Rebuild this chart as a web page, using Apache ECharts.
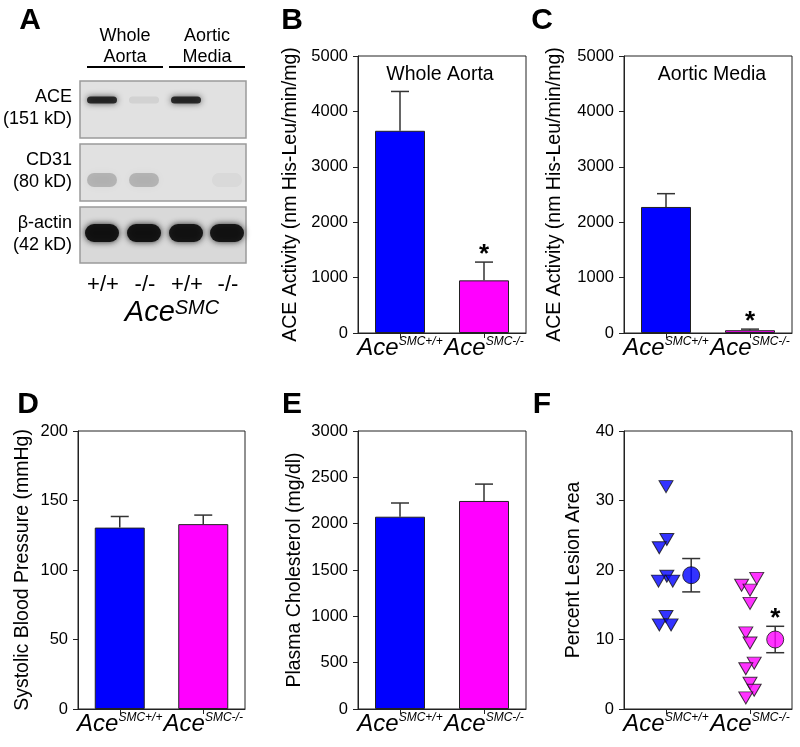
<!DOCTYPE html>
<html><head><meta charset="utf-8">
<script src="https://cdn.jsdelivr.net/npm/echarts@6/dist/echarts.min.js"></script>
<style>html,body{margin:0;padding:0;background:#fff}#c{width:800px;height:747px}</style>
</head><body><div id="c"></div>
<script>
// ---------- data ----------
const groups = ['+/+', '-/-'];
const groupColors = ['#0000ff', '#ff00ff'];

// B: ACE activity, whole aorta
const wholeAortaMean = [3650, 950];
const wholeAortaErr = [710, 330];
const wholeAortaSig = ['', '*'];
// C: ACE activity, aortic media
const mediaMean = [2275, 50];
const mediaErr = [240, 20];
const mediaSig = ['', '*'];
// D: systolic blood pressure
const sbpMean = [130.5, 133];
const sbpErr = [8, 6.5];
// E: plasma cholesterol
const cholMean = [2075, 2245];
const cholErr = [148, 182];
// F: percent lesion area (individual mice)
const lesionPlus = [32.0, 24.4, 23.2, 19.1, 18.4, 18.4, 13.3, 12.1, 12.1];
const lesionPlusJitter = [0, 0.01, -0.08, 0.01, -0.09, 0.08, 0, -0.08, 0.06];
const lesionMinus = [18.8, 17.8, 17.1, 15.2, 10.95, 9.5, 6.6, 5.8, 3.7, 2.7, 1.6];
const lesionMinusJitter = [0.08, -0.1, 0, 0, -0.05, 0, 0.05, -0.05, 0, 0.05, -0.05];
const lesionMean = [19.25, 10.0];
const lesionErr = [2.4, 1.9];
const lesionSig = ['', '*'];
const meanOffset = 0.3;

// A: western blot
const blotRows = ['ACE', 'CD31', 'β-actin'];
const blotSizes = ['(151 kD)', '(80 kD)', '(42 kD)'];
const blotLanes = ['+/+', '-/-', '+/+', '-/-'];
const blotTissues = [['Whole', 'Aorta'], ['Aortic', 'Media']];
const blotIntensity = [[0.82, 0.07, 0.82, 0.0], [0.2, 0.2, 0.0, 0.04], [0.95, 0.95, 0.93, 0.93]];

// ---------- helpers ----------
const FONT = '"Liberation Sans", Arial, sans-serif';
const chart = echarts.init(document.getElementById('c'), null, {renderer: 'canvas'});

const grids = [
  {left: 358, top: 56, width: 168, height: 277},   // B
  {left: 624, top: 56, width: 168, height: 277},   // C
  {left: 78,  top: 431, width: 167, height: 278},  // D
  {left: 358, top: 431, width: 168, height: 278},  // E
  {left: 624, top: 431, width: 168, height: 278}   // F
].map(g => Object.assign({show: true, borderColor: '#222', borderWidth: 1, backgroundColor: 'transparent'}, g));

function catAxis(gi) {
  return {
    type: 'category', gridIndex: gi, data: groups,
    axisLine: {show: true, lineStyle: {color: '#222', width: 1}},
    axisTick: {show: true, alignWithLabel: true, length: 5, lineStyle: {color: '#222'}},
    axisLabel: {
      margin: 3, interval: 0, hideOverlap: false,
      formatter: v => '{a|Ace}{s|SMC' + v + '}',
      rich: {
        a: {fontFamily: FONT, fontSize: 24, fontStyle: 'italic', color: '#000'},
        s: {fontFamily: FONT, fontSize: 12, fontStyle: 'italic', color: '#000', verticalAlign: 'top'}
      }
    },
    splitLine: {show: false}
  };
}
function valAxis(gi, max, interval, name, gap) {
  return {
    type: 'value', gridIndex: gi, min: 0, max: max, interval: interval,
    name: name, nameLocation: 'middle', nameGap: gap,
    nameTextStyle: {fontFamily: FONT, fontSize: 19.5, color: '#000'},
    axisLine: {show: true, onZero: false, lineStyle: {color: '#222', width: 1}},
    axisTick: {show: true, inside: false, length: 5, lineStyle: {color: '#222'}},
    axisLabel: {fontFamily: FONT, fontSize: 16.5, color: '#000', margin: 10, formatter: v => String(v)},
    splitLine: {show: false}
  };
}
function barSeries(gi, means) {
  return {
    type: 'bar', xAxisIndex: gi, yAxisIndex: gi, barWidth: 50,
    data: means.map((m, i) => ({value: m, itemStyle: {color: groupColors[i]}})),
    itemStyle: {borderColor: '#222', borderWidth: 1}, silent: true, z: 2
  };
}
function upperErrSeries(gi, means, errs, sig) {
  return {
    type: 'custom', xAxisIndex: gi, yAxisIndex: gi, z: 1, silent: true,
    data: means.map((m, i) => [i, m, errs[i], sig ? (sig[i] ? 1 : 0) : 0]),
    renderItem: (params, api) => {
      const x = api.value(0), m = api.value(1), e = api.value(2);
      const p0 = api.coord([x, m]), p1 = api.coord([x, m + e]);
      const st = {stroke: '#333', lineWidth: 1.5};
      const ch = [
        {type: 'line', shape: {x1: p0[0], y1: p0[1], x2: p1[0], y2: p1[1]}, style: st},
        {type: 'line', shape: {x1: p1[0] - 9, y1: p1[1], x2: p1[0] + 9, y2: p1[1]}, style: st}
      ];
      if (api.value(3)) ch.push({type: 'text', style: {text: '*', x: p1[0], y: p1[1] - 7,
        textAlign: 'center', textVerticalAlign: 'middle', font: 'bold 26px ' + FONT, fill: '#000'}});
      return {type: 'group', children: ch};
    }
  };
}

// ---------- panel A (blot) graphics ----------
const gfx = [];
function txt(text, x, y, size, opts) {
  gfx.push(Object.assign({type: 'text', silent: true, style: Object.assign({text, x, y, font: size + 'px ' + FONT, fill: '#000', textAlign: 'center', textVerticalAlign: 'middle'}, opts || {})}));
}
// panel letters
[['A', 30, 21], ['B', 292, 21], ['C', 542, 21], ['D', 28, 405], ['E', 292, 405], ['F', 542, 405]]
  .forEach(([t, x, y]) => txt(t, x, y, 30, {font: 'bold 30px ' + FONT}));
// in-plot titles
txt('Whole Aorta', 440, 75, 19.5);
txt('Aortic Media', 712, 75, 19.5);

// tissue headers
const tissueX = [125, 207];
blotTissues.forEach((t, i) => {
  txt(t[0], tissueX[i], 36, 18);
  txt(t[1], tissueX[i], 57, 18);
  gfx.push({type: 'line', silent: true, shape: {x1: tissueX[i] - 38, y1: 67, x2: tissueX[i] + 38, y2: 67}, style: {stroke: '#000', lineWidth: 2}});
});
const rowTops = [81, 144, 207];
const rowH = [57, 57, 56];
const laneX = [102, 144, 186, 227];
const bandY = [100, 180, 233];
const bandH = [7, 14, 18];
const bandW = [30, 30, 34];
blotRows.forEach((r, ri) => {
  gfx.push({type: 'rect', silent: true, shape: {x: 80, y: rowTops[ri], width: 166, height: rowH[ri]},
    style: {fill: ri === 2 ? '#d9d9d9' : '#e1e1e1', stroke: '#9a9a9a', lineWidth: 1.5}});
  txt(r, 72, rowTops[ri] + 16, 18, {textAlign: 'right'});
  txt(blotSizes[ri], 72, rowTops[ri] + 38, 18, {textAlign: 'right'});
  blotIntensity[ri].forEach((a, li) => {
    if (a <= 0) return;
    const w = bandW[ri], h = bandH[ri];
    gfx.push({type: 'rect', silent: true,
      shape: {x: laneX[li] - w / 2, y: bandY[ri] - h / 2, width: w, height: h, r: h / 2},
      style: {fill: 'rgba(15,15,15,' + a + ')', shadowBlur: ri === 1 ? 10 : 6, shadowColor: 'rgba(15,15,15,' + a + ')'}});
  });
});
blotLanes.forEach((l, i) => txt(l, laneX[i] + 1, 285, 22));
gfx.push({type: 'text', silent: true, style: {
  text: '{a|Ace}{s|SMC}', x: 172, y: 313, textAlign: 'center', textVerticalAlign: 'middle',
  rich: {a: {fontFamily: FONT, fontSize: 29, fontStyle: 'italic', fill: '#000'},
         s: {fontFamily: FONT, fontSize: 20, fontStyle: 'italic', fill: '#000', verticalAlign: 'top'}}}});

// ---------- F series ----------
const fPlus = lesionPlus.map((v, i) => [0 + lesionPlusJitter[i], v]);
const fMinus = lesionMinus.map((v, i) => [1 + lesionMinusJitter[i], v]);
const triStyle = {borderColor: '#111', borderWidth: 1};

const option = {
  animation: false,
  backgroundColor: '#fff',
  grid: grids,
  xAxis: [catAxis(0), catAxis(1), catAxis(2), catAxis(3), catAxis(4),
    {type: 'value', gridIndex: 4, min: -0.5, max: 1.5, show: false}],
  yAxis: [
    valAxis(0, 5000, 1000, 'ACE Activity (nm His-Leu/min/mg)', 57),
    valAxis(1, 5000, 1000, 'ACE Activity (nm His-Leu/min/mg)', 59),
    valAxis(2, 200, 50, 'Systolic Blood Pressure (mmHg)', 45),
    valAxis(3, 3000, 500, 'Plasma Cholesterol (mg/dl)', 53),
    valAxis(4, 40, 10, 'Percent Lesion Area', 40)
  ],
  graphic: gfx,
  series: [
    barSeries(0, wholeAortaMean), upperErrSeries(0, wholeAortaMean, wholeAortaErr, wholeAortaSig),
    barSeries(1, mediaMean), upperErrSeries(1, mediaMean, mediaErr, mediaSig),
    barSeries(2, sbpMean), upperErrSeries(2, sbpMean, sbpErr),
    barSeries(3, cholMean), upperErrSeries(3, cholMean, cholErr),
    {type: 'scatter', xAxisIndex: 5, yAxisIndex: 4, data: fPlus, symbol: 'triangle', symbolRotate: 180,
     symbolSize: [14, 12], itemStyle: Object.assign({color: groupColors[0]}, triStyle), silent: true, z: 3},
    {type: 'scatter', xAxisIndex: 5, yAxisIndex: 4, data: fMinus, symbol: 'triangle', symbolRotate: 180,
     symbolSize: [14, 12], itemStyle: Object.assign({color: groupColors[1]}, triStyle), silent: true, z: 3},
    {type: 'custom', xAxisIndex: 5, yAxisIndex: 4, z: 2, silent: true,
     data: lesionMean.map((m, i) => [i + meanOffset, m, lesionErr[i], lesionSig[i] ? 1 : 0]),
     renderItem: (params, api) => {
       const x = api.value(0), m = api.value(1), e = api.value(2);
       const pt = api.coord([x, m + e]), pb = api.coord([x, m - e]);
       const st = {stroke: '#333', lineWidth: 1.5};
       const ch = [
         {type: 'line', shape: {x1: pt[0], y1: pt[1], x2: pb[0], y2: pb[1]}, style: st},
         {type: 'line', shape: {x1: pt[0] - 9, y1: pt[1], x2: pt[0] + 9, y2: pt[1]}, style: st},
         {type: 'line', shape: {x1: pb[0] - 9, y1: pb[1], x2: pb[0] + 9, y2: pb[1]}, style: st}
       ];
       if (api.value(3)) ch.push({type: 'text', style: {text: '*', x: pt[0], y: pt[1] - 7,
         textAlign: 'center', textVerticalAlign: 'middle', font: 'bold 26px ' + FONT, fill: '#000'}});
       return {type: 'group', children: ch};
     }},
    {type: 'scatter', xAxisIndex: 5, yAxisIndex: 4, z: 4, silent: true, symbol: 'circle', symbolSize: 17,
     data: lesionMean.map((m, i) => ({value: [i + meanOffset, m], itemStyle: {color: groupColors[i]}})),
     itemStyle: {borderColor: '#111', borderWidth: 1}}
  ]
};
chart.setOption(option);
</script></body></html>
